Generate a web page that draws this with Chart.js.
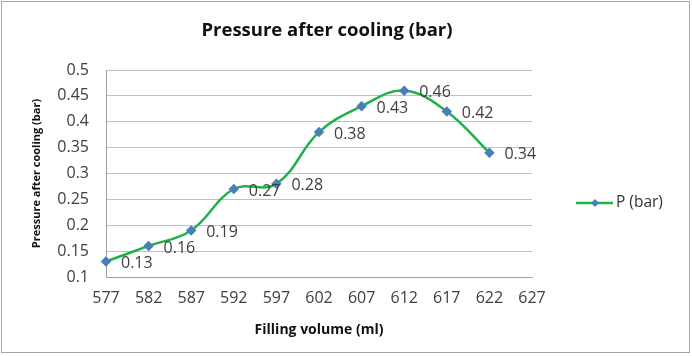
<!DOCTYPE html>
<html><head><meta charset="utf-8">
<script src="https://cdn.jsdelivr.net/npm/chart.js@4"></script>
<style>html,body{margin:0;padding:0;background:#fff}#w{width:692px;height:356px}</style>
</head><body><div id="w"><canvas id="c"></canvas></div>
<script>
const categories = ['577','582','587','592','597','602','607','612','617','622','627'];
const pressure = [0.13,0.16,0.19,0.27,0.28,0.38,0.43,0.46,0.42,0.34,null];
const seriesName = 'P (bar)';
const titleText = 'Pressure after cooling (bar)';
const xTitle = 'Filling volume (ml)';
const yTitle = 'Pressure after cooling (bar)';

const GREEN = '#1db34a', BLUE = '#4a7ebb', TXT = '#404040';

const extras = {
  id: 'extras',
  afterDatasetsDraw(chart) {
    const ctx = chart.ctx;
    const meta = chart.getDatasetMeta(0);
    ctx.save();
    // title
    ctx.font = 'bold 18.5px "Open Sans"';
    ctx.fillStyle = '#111';
    ctx.textAlign = 'center';
    ctx.textBaseline = 'middle';
    ctx.fillText(titleText, 327, 31);
    // data labels
    ctx.font = '16px "Open Sans"';
    ctx.fillStyle = TXT;
    ctx.textAlign = 'left';
    meta.data.forEach((p, i) => {
      const v = pressure[i];
      if (v == null) return;
      ctx.fillText(String(v), p.x + 15, p.y + 2);
    });
    // legend
    const lx = 576, ly = 203;
    ctx.strokeStyle = GREEN; ctx.lineWidth = 2.5;
    ctx.beginPath(); ctx.moveTo(lx, ly); ctx.lineTo(lx + 37, ly); ctx.stroke();
    ctx.fillStyle = BLUE;
    ctx.beginPath();
    const cx = lx + 19, r = 4;
    ctx.moveTo(cx, ly - r); ctx.lineTo(cx + r, ly); ctx.lineTo(cx, ly + r); ctx.lineTo(cx - r, ly); ctx.closePath(); ctx.fill();
    ctx.fillStyle = '#333';
    ctx.font = '15.5px "Open Sans"';
    ctx.fillText(seriesName, lx + 40, ly);
    // border
    ctx.strokeStyle = '#a6a6a6'; ctx.lineWidth = 1;
    ctx.strokeRect(1.5, 1.5, 688, 351);
    ctx.restore();
  }
};

new Chart(document.getElementById('c'), {
  type: 'line',
  data: {
    labels: categories,
    datasets: [{
      label: seriesName,
      data: pressure,
      borderColor: GREEN,
      borderWidth: 2.5,
      backgroundColor: BLUE,
      pointBackgroundColor: BLUE,
      pointBorderColor: BLUE,
      pointStyle: 'rectRot',
      pointRadius: 3.5,
      tension: 0.4,
      fill: false
    }]
  },
  options: {
    responsive: true,
    maintainAspectRatio: false,
    animation: false,
    devicePixelRatio: 1,
    layout: { padding: { left: 0, right: 160, top: 70, bottom: 18 } },
    plugins: {
      legend: { display: false },
      tooltip: { enabled: false },
      title: { display: false }
    },
    scales: {
      x: {
        offset: false,
        afterFit(s) { s.height = 356 - 18 - 277; },
        grid: { display: false, drawTicks: true, tickLength: 4 },
        border: { color: '#a0a0a0' },
        ticks: { color: TXT, font: { family: '"Open Sans"', size: 16 }, padding: 8, maxRotation: 0, autoSkip: false },
        title: { display: true, text: xTitle, color: '#111', font: { family: '"Open Sans"', size: 14, weight: 'bold' }, padding: { top: 6, bottom: 0 } }
      },
      y: {
        min: 0.1, max: 0.5,
        afterFit(s) { s.width = 106; },
        grid: { color: '#c0c0c0', drawTicks: false },
        border: { color: '#a0a0a0' },
        ticks: { stepSize: 0.05, color: TXT, font: { family: '"Open Sans"', size: 16 }, padding: 17,
          callback: v => String(Math.round(v * 100) / 100) },
        title: { display: true, text: yTitle, color: '#111', font: { family: '"Open Sans"', size: 11, weight: 'bold' }, padding: { top: 30, bottom: 4 } }
      }
    }
  },
  plugins: [extras]
});
</script></body></html>
